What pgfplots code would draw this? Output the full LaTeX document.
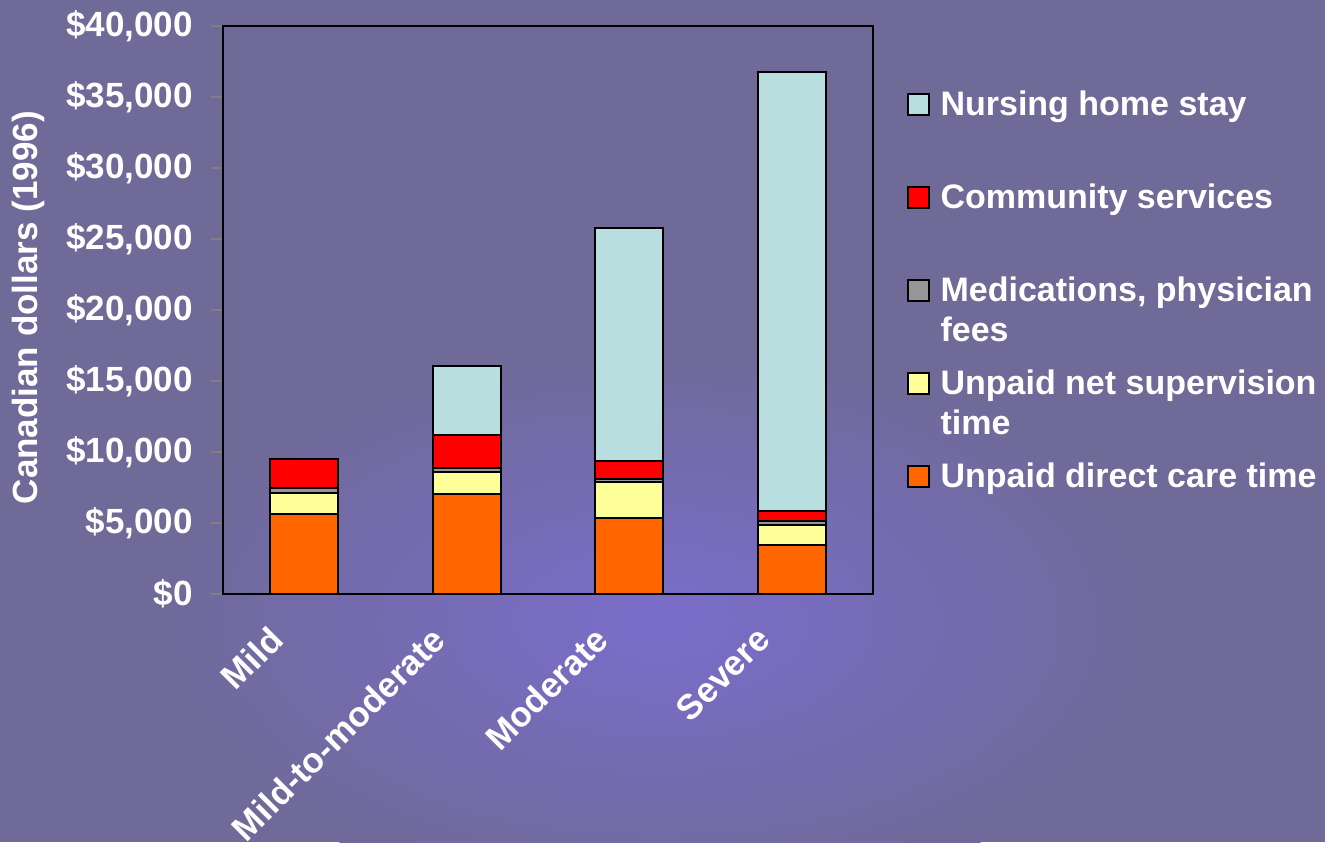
\documentclass[border=0pt]{standalone}
\usepackage{pgfplots}
\pgfplotsset{compat=1.18}
\usepackage{fontspec}
\setmainfont{Liberation Sans}

\definecolor{bg}{HTML}{6F6A98}
\definecolor{glow}{HTML}{7A6DCB}
\definecolor{cnurse}{HTML}{B8DEE0}
\definecolor{ccomm}{HTML}{FF0000}
\definecolor{cmed}{HTML}{969696}
\definecolor{csup}{HTML}{FFFF99}
\definecolor{cdirect}{HTML}{FF6600}

\newcommand{\lbl}{\bfseries\fontsize{17.5}{20}\selectfont}
\newcommand{\leg}{\bfseries\fontsize{17}{20}\selectfont}
\newcommand{\two}[2]{\parbox[t]{8cm}{#1\\#2}}

\begin{document}
\begin{tikzpicture}
% slide background, 1 px = 0.5 pt
\useasboundingbox (0pt,0pt) rectangle (662.5pt,421pt);
\begin{scope}
\clip (0pt,0pt) rectangle (662.5pt,421pt);
\fill[bg] (0pt,0pt) rectangle (662.5pt,421pt);
\shade[inner color=glow, outer color=bg] (330pt,110pt) ellipse (260pt and 140pt);
\end{scope}

\begin{axis}[
    at={(111.5pt,124pt)}, anchor=south west,
    scale only axis,
    width=325pt, height=284pt,
    ybar stacked,
    bar width=34pt,
    xmin=-0.5, xmax=3.5,
    ymin=0, ymax=40000,
    ytick={0,5000,10000,15000,20000,25000,30000,35000,40000},
    yticklabel={\$\pgfmathprintnumber{\tick}},
    /pgf/number format/1000 sep={,},
    /pgf/number format/assume math mode=true,
    scaled y ticks=false,
    xtick={0,1,2,3},
    xticklabels={Mild, Mild-to-moderate, Moderate, Severe},
    xtick style={draw=none},
    extra x ticks={-0.5,0.5,1.5,2.5,3.5},
    extra x tick labels={},
    extra x tick style={tick style={draw=black, line width=1pt}, major tick length=5pt},
    tick align=outside,
    major tick length=6pt,
    ytick style={line width=1pt},
    xtick pos=bottom, ytick pos=left,
    axis line style={line width=1pt},
    tick label style={text=white, font=\lbl},
    yticklabel style={inner sep=0pt, xshift=-9pt},
    xticklabel style={inner sep=0pt, xshift=-18.5pt, yshift=-9pt, rotate=45, anchor=north east},
    ylabel={Canadian dollars (1996)},
    ylabel style={text=white, font=\lbl, at={(axis description cs:-0.30,0.504)}, anchor=center},
    every axis plot/.append style={draw=black, line width=1pt},
    reverse legend,
    legend cell align=left,
    legend style={
        at={(1.051,0.889)}, anchor=north west,
        draw=none, fill=none, inner sep=0pt,
        font=\leg, text=white,
        nodes={inner sep=0pt},
        row sep=0pt,
        /tikz/every odd column/.append style={column sep=5.5pt},
        /tikz/every even column/.append style={nodes={text height=13pt, text depth=33.5pt}},
    },
    legend image code/.code={
        \draw[#1, draw=black, line width=1pt] (0pt,10.5pt) rectangle (10.5pt,21pt);
    },
]
% Unpaid direct care time
\addplot[fill=cdirect] coordinates {(0,5650) (1,7030) (2,5320) (3,3480)};
% Unpaid net supervision time
\addplot[fill=csup] coordinates {(0,1480) (1,1530) (2,2600) (3,1390)};
% Medications, physician fees
\addplot[fill=cmed] coordinates {(0,350) (1,310) (2,170) (3,280)};
% Community services
\addplot[fill=ccomm] coordinates {(0,2020) (1,2330) (2,1270) (3,680)};
% Nursing home stay
\addplot[fill=cnurse] coordinates {(0,0) (1,4890) (2,16390) (3,30920)};

\legend{Unpaid direct care time,
    \two{Unpaid net supervision}{time},
    \two{Medications, physician}{fees},
    Community services,
    Nursing home stay}
\end{axis}
\end{tikzpicture}
\end{document}
